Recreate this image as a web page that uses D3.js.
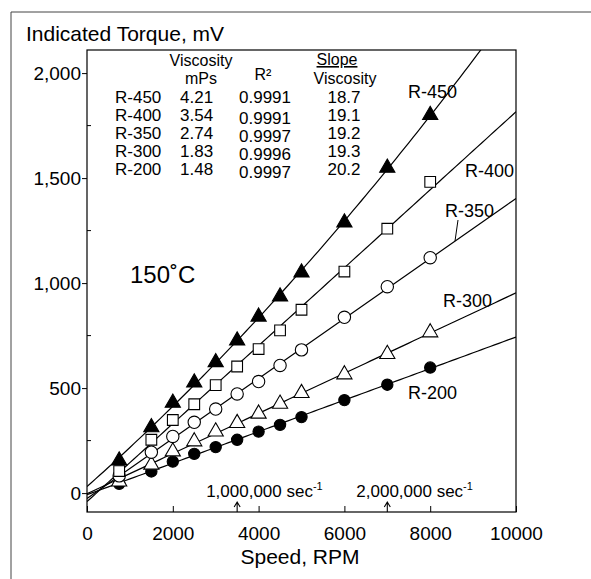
<!DOCTYPE html>
<html>
<head>
<meta charset="utf-8">
<script src="https://cdn.jsdelivr.net/npm/d3@7"></script>
<style>
  html, body { margin: 0; padding: 0; background: #fff; }
  svg { display: block; font-family: "Liberation Sans", Arial, Helvetica, sans-serif; }
</style>
</head>
<body>
<div id="chart"></div>
<script>
// data
var speeds = [750, 1500, 2000, 2500, 3000, 3500, 4000, 4500, 5000, 6000, 7000, 8000];
var r450 = [155, 313, 430, 526, 623, 726, 840, 936, 1050, 1288, 1549, 1800];
var r400 = [105, 254, 348, 423, 514, 603, 686, 775, 873, 1055, 1259, 1482];
var r350 = [82, 195, 270, 337, 400, 472, 531, 608, 682, 837, 983, 1121];
var r300 = [55, 135, 198, 246, 293, 333, 378, 425, 476, 565, 662, 765];
var r200 = [44, 103, 150, 187, 219, 254, 293, 325, 362, 443, 516, 598];

var grades = ['R-450', 'R-400', 'R-350', 'R-300', 'R-200'];
var viscosity = [4.21, 3.54, 2.74, 1.83, 1.48];
var rSquared = [0.9991, 0.9991, 0.9997, 0.9996, 0.9997];
var slopeVisc = [18.7, 19.1, 19.2, 19.3, 20.2];
var fitOrder = [2, 1, 1, 1, 1]; // fitted curve degree per grade

var xTicks = [0, 2000, 4000, 6000, 8000, 10000];
var yTicks = [0, 500, 1000, 1500, 2000];
var yMinor = [250, 750, 1250, 1750];
var shearRpm = [3500, 7000];
var shearLabels = ['1,000,000', '2,000,000'];

var allSeries = [r450, r400, r350, r300, r200];

var W = 591, H = 579;
var svg = d3.select('#chart').append('svg').attr('width', W).attr('height', H);

var x = d3.scaleLinear().domain([0, 10000]).range([87, 516]);
var y = d3.scaleLinear().domain([-90, 2110]).range([512, 50]);

// outer figure border
svg.append('path')
	.attr('d', 'M11,' + H + 'V12H' + W)
	.attr('fill', 'none').attr('stroke', '#444').attr('stroke-width', 1);

// title
svg.append('text').attr('x', 26).attr('y', 41)
	.attr('font-size', 21).text('Indicated Torque, mV');

// plot frame
svg.append('rect')
	.attr('x', x(0)).attr('y', y(2110))
	.attr('width', x(10000) - x(0)).attr('height', y(-90) - y(2110))
	.attr('fill', 'none').attr('stroke', '#000').attr('stroke-width', 1.2);

// y axis
var yAxis = svg.append('g').attr('transform', 'translate(' + x(0) + ',0)')
	.call(d3.axisLeft(y).tickValues(yTicks).tickSize(5).tickPadding(1).tickFormat(d3.format(',')));
yAxis.select('.domain').remove();
yAxis.selectAll('text').attr('font-size', 19).attr('font-family', null).attr('fill', '#000');
yAxis.selectAll('line').attr('stroke', '#000');
svg.selectAll('.yminor').data(yMinor).enter().append('line')
	.attr('x1', x(0)).attr('x2', x(0) + 4)
	.attr('y1', function(d) { return y(d); }).attr('y2', function(d) { return y(d); })
	.attr('stroke', '#000');

// x axis
var xAxis = svg.append('g').attr('transform', 'translate(0,' + y(-90) + ')')
	.call(d3.axisBottom(x).tickValues(xTicks).tickSize(-6).tickPadding(15).tickFormat(d3.format('d')));
xAxis.select('.domain').remove();
xAxis.selectAll('text').attr('font-size', 19).attr('font-family', null).attr('fill', '#000');
xAxis.selectAll('line').attr('stroke', '#000');

svg.append('text').attr('x', 300).attr('y', 564).attr('text-anchor', 'middle')
	.attr('font-size', 21).text('Speed, RPM');

// shear rate markers
shearRpm.forEach(function(r, i) {
	var px = x(r), base = y(-90);
	svg.append('path')
		.attr('d', 'M' + px + ',' + base + 'V' + (base - 9) + 'M' + (px - 3) + ',' + (base - 5) + 'L' + px + ',' + (base - 10) + 'L' + (px + 3) + ',' + (base - 5))
		.attr('fill', 'none').attr('stroke', '#000').attr('stroke-width', 1.1);
	var t = svg.append('text').attr('x', px - 31).attr('y', base - 15).attr('font-size', 17);
	t.append('tspan').text(shearLabels[i] + ' sec');
	t.append('tspan').attr('font-size', 11).attr('dy', -7).text('-1');
});

// fitting
function polyfit(xs, ys, deg) {
	var n = deg + 1, A = [], b = [];
	for (var i = 0; i < n; i++) {
		A.push([]);
		for (var j = 0; j < n; j++) {
			A[i].push(d3.sum(xs, function(v) { return Math.pow(v, i + j); }));
		}
		b.push(d3.sum(xs, function(v, k) { return ys[k] * Math.pow(v, i); }));
	}
	// gauss elimination
	for (var c = 0; c < n; c++) {
		for (var r = c + 1; r < n; r++) {
			var f = A[r][c] / A[c][c];
			for (var k = c; k < n; k++) A[r][k] -= f * A[c][k];
			b[r] -= f * b[c];
		}
	}
	var coef = new Array(n);
	for (var r2 = n - 1; r2 >= 0; r2--) {
		var s = b[r2];
		for (var k2 = r2 + 1; k2 < n; k2++) s -= A[r2][k2] * coef[k2];
		coef[r2] = s / A[r2][r2];
	}
	return function(v) {
		var out = 0;
		coef.forEach(function(cf, p) { out += cf * Math.pow(v, p); });
		return out;
	};
}

var xsk = speeds.map(function(s) { return s / 1000; });
var fits = allSeries.map(function(ser, i) { return polyfit(xsk, ser, fitOrder[i]); });

svg.append('clipPath').attr('id', 'plotclip').append('rect')
	.attr('x', x(0)).attr('y', y(2110))
	.attr('width', x(10000) - x(0)).attr('height', y(-90) - y(2110));

var sample = d3.range(0, 10001, 100);
var line = d3.line().x(function(d) { return x(d[0]); }).y(function(d) { return y(d[1]); });
var lines = svg.append('g').attr('clip-path', 'url(#plotclip)');
fits.forEach(function(fn) {
	lines.append('path')
		.attr('d', line(sample.map(function(s) { return [s, fn(s / 1000)]; })))
		.attr('fill', 'none').attr('stroke', '#000').attr('stroke-width', 1.2);
});

// markers
var symType = [d3.symbolTriangle, d3.symbolSquare, d3.symbolCircle, d3.symbolTriangle, d3.symbolCircle];
var symSize = [100, 115, 120, 100, 100];
var symFill = ['#000', '#fff', '#fff', '#fff', '#000'];
for (var si = allSeries.length - 1; si >= 0; si--) {
	var sym = d3.symbol().type(symType[si]).size(symSize[si]);
	svg.append('g').selectAll('path').data(allSeries[si]).enter().append('path')
		.attr('transform', function(d, k) { return 'translate(' + x(speeds[k]) + ',' + y(d) + ')'; })
		.attr('d', sym)
		.attr('fill', symFill[si]).attr('stroke', '#000').attr('stroke-width', 1.1);
}

// curve labels
var labelPos = [[408, 98], [465, 177], [445, 217], [443, 307], [408, 399]];
grades.forEach(function(g, i) {
	svg.append('text').attr('x', labelPos[i][0]).attr('y', labelPos[i][1])
		.attr('font-size', 18).text(g);
});
// leader for R-350
svg.append('line').attr('x1', 458).attr('y1', 220).attr('x2', 455)
	.attr('y2', y(fits[2](x.invert(455) / 1000)))
	.attr('stroke', '#000').attr('stroke-width', 1);

svg.append('text').attr('x', 130).attr('y', 283).attr('font-size', 24).text('150˚C');

// table
var tb = svg.append('g').attr('font-size', 17);
var hd = tb.append('g').attr('font-size', 16);
hd.append('text').attr('x', 201).attr('y', 66).attr('text-anchor', 'middle').text('Viscosity');
hd.append('text').attr('x', 201).attr('y', 84).attr('text-anchor', 'middle').text('mPs');
hd.append('text').attr('x', 263).attr('y', 80).attr('text-anchor', 'middle').text('R²');
hd.append('text').attr('x', 337).attr('y', 65).attr('text-anchor', 'middle')
	.attr('text-decoration', 'underline').text('Slope');
hd.append('text').attr('x', 345).attr('y', 84).attr('text-anchor', 'middle').text('Viscosity');

grades.forEach(function(g, i) {
	var by = 103 + i * 18;
	tb.append('text').attr('x', 115).attr('y', by).text(g);
	tb.append('text').attr('x', 180).attr('y', by).text(viscosity[i].toFixed(2));
	tb.append('text').attr('x', 239).attr('y', by + (i > 0 ? 3 : 0)).text(rSquared[i].toFixed(4));
	tb.append('text').attr('x', 344).attr('y', by).attr('text-anchor', 'middle').text(slopeVisc[i].toFixed(1));
});
</script>
</body>
</html>
